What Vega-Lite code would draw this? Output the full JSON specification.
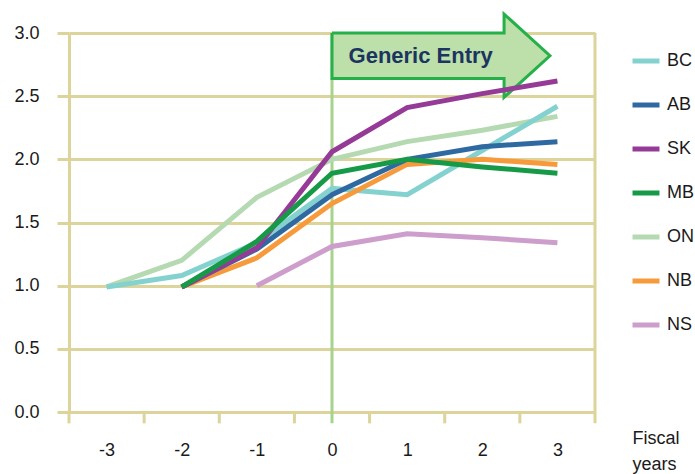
{
  "$schema": "https://vega.github.io/schema/vega-lite/v6.json",
  "width": 526,
  "height": 379,
  "autosize": {"type": "none"},
  "padding": {"left": 69, "top": 33, "right": 100, "bottom": 62},
  "background": "#ffffff",
  "config": {
    "view": {"stroke": null},
    "font": "Liberation Sans"
  },
  "datasets": {
    "series": [
      {"year": -1, "value": 1.0, "prov": "NS"},
      {"year": 0, "value": 1.31, "prov": "NS"},
      {"year": 1, "value": 1.41, "prov": "NS"},
      {"year": 2, "value": 1.38, "prov": "NS"},
      {"year": 3, "value": 1.34, "prov": "NS"},
      {"year": -3, "value": 0.99, "prov": "ON"},
      {"year": -2, "value": 1.2, "prov": "ON"},
      {"year": -1, "value": 1.7, "prov": "ON"},
      {"year": 0, "value": 2.0, "prov": "ON"},
      {"year": 1, "value": 2.14, "prov": "ON"},
      {"year": 2, "value": 2.23, "prov": "ON"},
      {"year": 3, "value": 2.34, "prov": "ON"},
      {"year": -3, "value": 0.99, "prov": "BC"},
      {"year": -2, "value": 1.08, "prov": "BC"},
      {"year": -1, "value": 1.34, "prov": "BC"},
      {"year": 0, "value": 1.77, "prov": "BC"},
      {"year": 1, "value": 1.72, "prov": "BC"},
      {"year": 2, "value": 2.07, "prov": "BC"},
      {"year": 3, "value": 2.42, "prov": "BC"},
      {"year": -2, "value": 0.99, "prov": "NB"},
      {"year": -1, "value": 1.22, "prov": "NB"},
      {"year": 0, "value": 1.65, "prov": "NB"},
      {"year": 1, "value": 1.96, "prov": "NB"},
      {"year": 2, "value": 2.0, "prov": "NB"},
      {"year": 3, "value": 1.96, "prov": "NB"},
      {"year": -2, "value": 0.99, "prov": "AB"},
      {"year": -1, "value": 1.29, "prov": "AB"},
      {"year": 0, "value": 1.72, "prov": "AB"},
      {"year": 1, "value": 2.0, "prov": "AB"},
      {"year": 2, "value": 2.1, "prov": "AB"},
      {"year": 3, "value": 2.14, "prov": "AB"},
      {"year": -2, "value": 0.99, "prov": "SK"},
      {"year": -1, "value": 1.3, "prov": "SK"},
      {"year": 0, "value": 2.06, "prov": "SK"},
      {"year": 1, "value": 2.41, "prov": "SK"},
      {"year": 2, "value": 2.52, "prov": "SK"},
      {"year": 3, "value": 2.62, "prov": "SK"},
      {"year": -2, "value": 0.99, "prov": "MB"},
      {"year": -1, "value": 1.35, "prov": "MB"},
      {"year": 0, "value": 1.89, "prov": "MB"},
      {"year": 1, "value": 2.0, "prov": "MB"},
      {"year": 2, "value": 1.94, "prov": "MB"},
      {"year": 3, "value": 1.89, "prov": "MB"}
    ]
  },
  "layer": [
    {
      "data": {"values": [
        {"x": -3.5, "ylo": -0.09, "yhi": 0},
        {"x": -2.5, "ylo": -0.09, "yhi": 0},
        {"x": -1.5, "ylo": -0.09, "yhi": 0},
        {"x": -0.5, "ylo": -0.09, "yhi": 0},
        {"x": 0.5, "ylo": -0.09, "yhi": 0},
        {"x": 1.5, "ylo": -0.09, "yhi": 0},
        {"x": 2.5, "ylo": -0.09, "yhi": 0},
        {"x": 3.5, "ylo": -0.09, "yhi": 3.0}
      ]},
      "mark": {"type": "rule", "color": "#ddd49b", "strokeWidth": 3},
      "encoding": {
        "x": {
          "field": "x", "type": "quantitative",
          "scale": {"domain": [-3.5, 3.5], "nice": false, "zero": false},
          "axis": {
            "values": [-3, -2, -1, 0, 1, 2, 3],
            "labelExpr": "'' + datum.value",
            "labelOverlap": false,
            "labelFlush": false,
            "labelFontSize": 18,
            "labelColor": "#1a1a1a",
            "labelPadding": 29,
            "labelBaseline": "top",
            "ticks": false,
            "domain": false,
            "grid": false,
            "title": ["Fiscal", "years"],
            "titleFontSize": 18,
            "titleFontWeight": "normal",
            "titleColor": "#1a1a1a",
            "titleAlign": "left",
            "titleAnchor": null,
            "titleX": 563,
            "titleY": 31,
            "titleBaseline": "alphabetic",
            "titleLineHeight": 26
          }
        },
        "y": {
          "field": "ylo", "type": "quantitative",
          "scale": {"domain": [0, 3], "nice": false},
          "axis": {
            "values": [0, 0.5, 1, 1.5, 2, 2.5, 3],
            "format": ".1f",
            "labelFontSize": 18,
            "labelColor": "#1a1a1a",
            "labelPadding": 18,
            "tickSize": 12,
            "tickWidth": 3,
            "tickColor": "#ddd49b",
            "domain": true,
            "domainColor": "#ddd49b",
            "domainWidth": 3,
            "grid": true,
            "gridColor": "#ddd49b",
            "gridWidth": 3,
            "title": null
          }
        },
        "y2": {"field": "yhi"}
      }
    },
    {
      "data": {"values": [{"x": 0, "ylo": -0.09, "yhi": 3.0}]},
      "mark": {"type": "rule", "color": "#a7d48c", "strokeWidth": 3},
      "encoding": {
        "x": {"field": "x", "type": "quantitative"},
        "y": {"field": "ylo", "type": "quantitative"},
        "y2": {"field": "yhi"}
      }
    },
    {
      "data": {"values": [
        {"i": 0, "ax": 0, "ay": 3.0},
        {"i": 1, "ax": 2.29, "ay": 3.0},
        {"i": 2, "ax": 2.29, "ay": 3.15},
        {"i": 3, "ax": 2.9, "ay": 2.82},
        {"i": 4, "ax": 2.29, "ay": 2.49},
        {"i": 5, "ax": 2.29, "ay": 2.64},
        {"i": 6, "ax": 0, "ay": 2.64},
        {"i": 7, "ax": 0, "ay": 3.0}
      ]},
      "mark": {"type": "line", "fill": "#bddfa9", "stroke": "#26b04a", "strokeWidth": 3, "strokeJoin": "miter"},
      "encoding": {
        "x": {"field": "ax", "type": "quantitative"},
        "y": {"field": "ay", "type": "quantitative"},
        "order": {"field": "i"}
      }
    },
    {
      "data": {"values": [{"tx": 1.18, "ty": 2.76, "label": "Generic Entry"}]},
      "mark": {"type": "text", "fontSize": 22, "fontWeight": "bold", "color": "#1b3460", "align": "center", "baseline": "alphabetic"},
      "encoding": {
        "x": {"field": "tx", "type": "quantitative"},
        "y": {"field": "ty", "type": "quantitative"},
        "text": {"field": "label"}
      }
    },
    {
      "data": {"name": "series"},
      "mark": {"type": "line", "strokeWidth": 5},
      "encoding": {
        "x": {"field": "year", "type": "quantitative"},
        "y": {"field": "value", "type": "quantitative"},
        "color": {
          "field": "prov", "type": "nominal",
          "scale": {
            "domain": ["BC", "AB", "SK", "MB", "ON", "NB", "NS"],
            "range": ["#84d2d0", "#2f69a1", "#953a96", "#179a48", "#b5dab2", "#f79a3b", "#cd9ecb"]
          },
          "legend": {
            "title": null,
            "orient": "none",
            "legendX": 561,
            "legendY": 12,
            "padding": 0,
            "symbolType": "stroke",
            "symbolSize": 729,
            "symbolStrokeWidth": 5,
            "labelFontSize": 18,
            "labelColor": "#1a1a1a",
            "labelOffset": 5,
            "rowPadding": 18
          }
        }
      }
    }
  ]
}
